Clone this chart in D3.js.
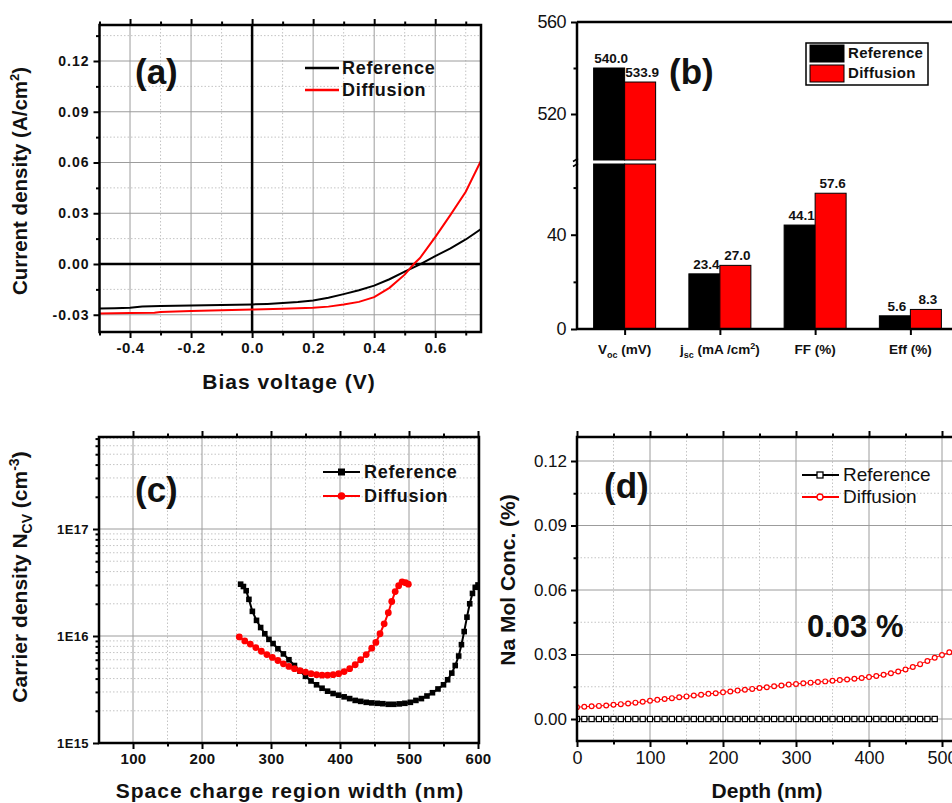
<!DOCTYPE html>
<html>
<head>
<meta charset="utf-8">
<script src="https://cdn.jsdelivr.net/npm/d3@7"></script>
<style>
  body { margin: 0; background: #fff; }
  text { font-family: "Liberation Sans", Arial, sans-serif; fill: #111; }
</style>
</head>
<body>
<div id="chart"></div>
<script>
// ---- (a) J-V curves ----
var jvVoltRef  = [-0.5, -0.45, -0.4, -0.36, -0.3, -0.2, -0.1, 0, 0.05, 0.1, 0.15, 0.2, 0.25, 0.3, 0.35, 0.4, 0.45, 0.5, 0.55, 0.6, 0.65, 0.7, 0.75];
var jvRef      = [-0.0263, -0.0261, -0.0259, -0.0251, -0.0249, -0.0245, -0.0242, -0.0239, -0.0236, -0.0231, -0.0225, -0.0216, -0.0200, -0.0178, -0.0155, -0.0128, -0.0090, -0.0045, -0.0002, 0.0047, 0.0092, 0.0145, 0.0206];
var jvVoltDiff = [-0.5, -0.4, -0.32, -0.3, -0.2, -0.1, 0, 0.1, 0.2, 0.25, 0.3, 0.35, 0.4, 0.45, 0.5, 0.53, 0.55, 0.6, 0.65, 0.7, 0.75];
var jvDiff     = [-0.0292, -0.0290, -0.0288, -0.0284, -0.0278, -0.0274, -0.0269, -0.0265, -0.0259, -0.0252, -0.0240, -0.0224, -0.0196, -0.0141, -0.0063, 0.0000, 0.0035, 0.0159, 0.0290, 0.0427, 0.0610];

// ---- (b) device parameters ----
var metrics    = ["Voc", "jsc", "FF", "Eff"];
var paramRef   = [540.0, 23.4, 44.1, 5.6];
var paramDiff  = [533.9, 27.0, 57.6, 8.3];

// ---- (c) C-V carrier density ----
var cvWidthRef = [256, 260, 264, 268, 273, 279, 285, 291, 297, 303, 310, 318, 326, 334, 342, 350, 358, 366, 374, 382, 390, 398, 406, 414, 422, 430, 438, 446, 454, 462, 470, 478, 486, 494, 502, 510, 518, 526, 534, 542, 550, 556, 562, 567, 572, 576, 580, 584, 588, 592, 596, 600];
var cvRef      = [3.05e16, 2.9e16, 2.65e16, 2.2e16, 1.7e16, 1.4e16, 1.2e16, 1.05e16, 9.3e15, 8.5e15, 7.6e15, 6.8e15, 6.0e15, 5.3e15, 4.7e15, 4.2e15, 3.8e15, 3.5e15, 3.25e15, 3.05e15, 2.9e15, 2.8e15, 2.7e15, 2.6e15, 2.5e15, 2.45e15, 2.4e15, 2.37e15, 2.35e15, 2.33e15, 2.3e15, 2.3e15, 2.32e15, 2.35e15, 2.4e15, 2.5e15, 2.6e15, 2.75e15, 2.95e15, 3.2e15, 3.5e15, 3.9e15, 4.5e15, 5.3e15, 6.5e15, 8.3e15, 1.1e16, 1.5e16, 2.0e16, 2.5e16, 2.85e16, 3.0e16];
var cvWidthDiff = [254, 262, 270, 278, 286, 294, 302, 310, 318, 326, 334, 342, 350, 358, 366, 374, 382, 390, 398, 406, 414, 422, 430, 438, 446, 452, 458, 464, 470, 475, 480, 485, 490, 495, 499];
var cvDiff      = [9.8e15, 9.0e15, 8.4e15, 7.8e15, 7.2e15, 6.7e15, 6.3e15, 5.9e15, 5.5e15, 5.2e15, 4.95e15, 4.75e15, 4.6e15, 4.45e15, 4.35e15, 4.3e15, 4.3e15, 4.35e15, 4.45e15, 4.65e15, 4.95e15, 5.4e15, 6.0e15, 6.7e15, 7.7e15, 8.7e15, 1.05e16, 1.3e16, 1.65e16, 2.1e16, 2.6e16, 2.95e16, 3.2e16, 3.15e16, 3.05e16];

// ---- (d) Na depth profile ----
var naDepthRef  = [0, 10, 20, 30, 40, 50, 60, 70, 80, 90, 100, 110, 120, 130, 140, 150, 160, 170, 180, 190, 200, 210, 220, 230, 240, 250, 260, 270, 280, 290, 300, 310, 320, 330, 340, 350, 360, 370, 380, 390, 400, 410, 420, 430, 440, 450, 460, 470, 480, 490];
var naRef       = [0, 0, 0, 0, 0, 0, 0, 0, 0, 0, 0, 0, 0, 0, 0, 0, 0, 0, 0, 0, 0, 0, 0, 0, 0, 0, 0, 0, 0, 0, 0, 0, 0, 0, 0, 0, 0, 0, 0, 0, 0, 0, 0, 0, 0, 0, 0, 0, 0, 0];
var naDepthDiff = [0, 10, 20, 30, 40, 50, 60, 70, 80, 90, 100, 110, 120, 130, 140, 150, 160, 170, 180, 190, 200, 210, 220, 230, 240, 250, 260, 270, 280, 290, 300, 310, 320, 330, 340, 350, 360, 370, 380, 390, 400, 410, 420, 430, 440, 450, 460, 470, 480, 490, 500, 510, 520];
var naDiff      = [0.0055, 0.0057, 0.0059, 0.0061, 0.0063, 0.0066, 0.0069, 0.0072, 0.0076, 0.0080, 0.0085, 0.0089, 0.0093, 0.0097, 0.0101, 0.0105, 0.0109, 0.0113, 0.0117, 0.0120, 0.0124, 0.0128, 0.0132, 0.0136, 0.0140, 0.0144, 0.0148, 0.0152, 0.0156, 0.0160, 0.0163, 0.0166, 0.0169, 0.0172, 0.0175, 0.0178, 0.0181, 0.0184, 0.0187, 0.0191, 0.0195, 0.0200, 0.0206, 0.0213, 0.0221, 0.0230, 0.0242, 0.0255, 0.0270, 0.0285, 0.0298, 0.0310, 0.0320];

var RED = "#ff0000";
var svg = d3.select("#chart").append("svg").attr("width", 952).attr("height", 803);

function zip(xs, ys) { return xs.map(function(x, i) { return [x, ys[i]]; }); }

function grid(g, x, y, box, majX, minX, majY, minY) {
  function vl(vals, major) {
    g.selectAll(null).data(vals).enter().append("line")
      .attr("x1", function(d) { return x(d); }).attr("x2", function(d) { return x(d); })
      .attr("y1", box.t).attr("y2", box.b)
      .attr("stroke", major ? "#9c9c9c" : "#c4c4c4").attr("stroke-width", 1)
      .attr("stroke-dasharray", major ? null : "1.5,2");
  }
  function hl(vals, major) {
    g.selectAll(null).data(vals).enter().append("line")
      .attr("y1", function(d) { return y(d); }).attr("y2", function(d) { return y(d); })
      .attr("x1", box.l).attr("x2", box.r)
      .attr("stroke", major ? "#9c9c9c" : "#c4c4c4").attr("stroke-width", 1)
      .attr("stroke-dasharray", major ? null : "1.5,2");
  }
  vl(minX, false); hl(minY, false); vl(majX, true); hl(majY, true);
}

function ticks(g, x, y, box, o) {
  var parts = [
    [d3.axisBottom(x).tickValues(o.majX).tickSize(6).tickPadding(4).tickFormat(o.fmtX), "translate(0," + box.b + ")", o.fontX],
    [d3.axisBottom(x).tickValues(o.minX).tickSize(3.5).tickFormat(""), "translate(0," + box.b + ")"],
    [d3.axisLeft(y).tickValues(o.majY).tickSize(6).tickPadding(4).tickFormat(o.fmtY), "translate(" + box.l + ",0)", o.fontY],
    [d3.axisLeft(y).tickValues(o.minY).tickSize(3.5).tickFormat(""), "translate(" + box.l + ",0)"]
  ];
  if (o.top) {
    parts.push([d3.axisTop(x).tickValues(o.majX).tickSize(6).tickFormat(""), "translate(0," + box.t + ")"]);
    parts.push([d3.axisTop(x).tickValues(o.minX).tickSize(3.5).tickFormat(""), "translate(0," + box.t + ")"]);
  }
  parts.forEach(function(p) {
    var a = g.append("g").attr("transform", p[1]).call(p[0]);
    a.select(".domain").remove();
    a.selectAll(".tick line").attr("stroke", "#000").attr("stroke-width", 2);
    if (p[2]) a.selectAll(".tick text").attr("fill", null)
      .style("font-size", p[2].size + "px").style("font-weight", p[2].weight)
      .style("letter-spacing", (p[2].ls || 0) + "px")
      .style("font-family", '"Liberation Sans", Arial, sans-serif');
  });
}

function frame(g, box) {
  g.append("rect").attr("x", box.l).attr("y", box.t)
    .attr("width", box.r - box.l).attr("height", box.b - box.t)
    .attr("fill", "none").attr("stroke", "#000").attr("stroke-width", 2.5);
}

function clip(id, box) {
  svg.append("clipPath").attr("id", id).append("rect")
    .attr("x", box.l).attr("y", box.t).attr("width", box.r - box.l).attr("height", box.b - box.t);
}

function panelLabel(txt, x, y) {
  svg.append("text").attr("x", x).attr("y", y).text(txt)
    .style("font-size", "35px").style("font-weight", "bold");
}

function yTitle(cx, cy, size, build) {
  var t = svg.append("text").attr("transform", "translate(" + cx + "," + cy + ") rotate(-90)")
    .attr("text-anchor", "middle").style("font-size", size + "px").style("font-weight", "bold");
  build(t);
}

function xTitle(cx, y, txt, ls) {
  svg.append("text").attr("x", cx).attr("y", y).attr("text-anchor", "middle")
    .style("font-size", "21px").style("font-weight", "bold").style("letter-spacing", ls + "px").text(txt);
}

// ================= (a) =================
var boxA = { l: 99.5, r: 481, t: 25, b: 332 };
var xA = d3.scaleLinear().domain([-0.5, 0.75]).range([99.5, 481]);
var yA = d3.scaleLinear().domain([0, 0.12]).range([264, 61]);
var gA = svg.append("g");
grid(gA, xA, yA, boxA, [-0.4, -0.2, 0.2, 0.4, 0.6], [-0.3, -0.1, 0.1, 0.3, 0.5, 0.7],
     [-0.03, 0.03, 0.06, 0.09, 0.12], [-0.015, 0.015, 0.045, 0.075, 0.105, 0.135]);
gA.append("line").attr("x1", xA(0)).attr("x2", xA(0)).attr("y1", boxA.t).attr("y2", boxA.b)
  .attr("stroke", "#000").attr("stroke-width", 2.5);
gA.append("line").attr("x1", boxA.l).attr("x2", boxA.r).attr("y1", yA(0)).attr("y2", yA(0))
  .attr("stroke", "#000").attr("stroke-width", 2.5);
clip("clipA", boxA);
var lineA = d3.line().x(function(d) { return xA(d[0]); }).y(function(d) { return yA(d[1]); });
gA.append("path").datum(zip(jvVoltRef, jvRef)).attr("d", lineA).attr("clip-path", "url(#clipA)")
  .attr("fill", "none").attr("stroke", "#000").attr("stroke-width", 2);
gA.append("path").datum(zip(jvVoltDiff, jvDiff)).attr("d", lineA).attr("clip-path", "url(#clipA)")
  .attr("fill", "none").attr("stroke", RED).attr("stroke-width", 2);
frame(gA, boxA);
ticks(gA, xA, yA, boxA, {
  majX: [-0.4, -0.2, 0, 0.2, 0.4, 0.6], minX: [-0.5, -0.3, -0.1, 0.1, 0.3, 0.5, 0.7],
  majY: [-0.03, 0, 0.03, 0.06, 0.09, 0.12], minY: [-0.015, 0.015, 0.045, 0.075, 0.105, 0.135],
  fmtX: function(d) { return d.toFixed(1); }, fmtY: function(d) { return d.toFixed(2); },
  fontX: { size: 15, weight: "bold", ls: 0.6 }, fontY: { size: 14, weight: "bold", ls: 1 }, top: true
});
[["Reference", "#000", 68], ["Diffusion", RED, 90]].forEach(function(l) {
  svg.append("line").attr("x1", 305).attr("x2", 339).attr("y1", l[2]).attr("y2", l[2])
    .attr("stroke", l[1]).attr("stroke-width", 2.5);
  svg.append("text").attr("x", 342).attr("y", l[2] + 6).text(l[0])
    .style("font-size", "18px").style("font-weight", "bold").style("letter-spacing", "0.7px");
});
panelLabel("(a)", 135, 84);
yTitle(27, 181, 20.5, function(t) {
  t.append("tspan").text("Current density (A/cm");
  t.append("tspan").attr("dy", -8).style("font-size", "13px").text("2");
  t.append("tspan").attr("dy", 8).text(")");
});
xTitle(289, 389, "Bias voltage (V)", 1);

// ================= (b) =================
var boxB = { l: 577, r: 962, t: 22, b: 329 };
var yLow = d3.scaleLinear().domain([0, 70]).range([329, 164]);
var yUp = d3.scaleLinear().domain([500, 560]).range([160, 22]);
var xB = d3.scalePoint().domain(metrics).range([577, 958]).padding(0.5);
var xSub = d3.scaleBand().domain(["Reference", "Diffusion"]).range([-31, 31]);
var gB = svg.append("g");
var barData = [];
metrics.forEach(function(m, i) {
  barData.push({ m: m, s: "Reference", v: paramRef[i], c: "#000" });
  barData.push({ m: m, s: "Diffusion", v: paramDiff[i], c: RED });
});
barData.forEach(function(d) {
  var x0 = xB(d.m) + xSub(d.s), w = xSub.bandwidth();
  var topLow = d.v > 70 ? yLow(70) : yLow(d.v);
  gB.append("rect").attr("x", x0).attr("y", topLow).attr("width", w).attr("height", yLow(0) - topLow)
    .attr("fill", d.c).attr("stroke", "#000").attr("stroke-width", 1);
  var ty = topLow;
  if (d.v > 70) {
    gB.append("rect").attr("x", x0).attr("y", yUp(d.v)).attr("width", w).attr("height", yUp(500) - yUp(d.v))
      .attr("fill", d.c).attr("stroke", "#000").attr("stroke-width", 1);
    ty = yUp(d.v);
  }
  gB.append("text").attr("x", x0 + w / 2 + 2).attr("y", ty - 5).attr("text-anchor", "middle")
    .text(d3.format(".1f")(d.v)).style("font-size", "13.5px").style("font-weight", "bold");
});
// axes of (b)
gB.append("line").attr("x1", boxB.l).attr("x2", boxB.l).attr("y1", boxB.t).attr("y2", boxB.b)
  .attr("stroke", "#000").attr("stroke-width", 2.5);
gB.append("line").attr("x1", boxB.l).attr("x2", boxB.r).attr("y1", boxB.b).attr("y2", boxB.b)
  .attr("stroke", "#000").attr("stroke-width", 2.5);
gB.append("line").attr("x1", boxB.l).attr("x2", boxB.r).attr("y1", boxB.t).attr("y2", boxB.t)
  .attr("stroke", "#000").attr("stroke-width", 2.5);
[[yLow, [0, 40], [20, 60]], [yUp, [520, 560], [540]]].forEach(function(a) {
  var maj = gB.append("g").attr("transform", "translate(" + boxB.l + ",0)")
    .call(d3.axisLeft(a[0]).tickValues(a[1]).tickSize(6).tickPadding(5));
  var mnr = gB.append("g").attr("transform", "translate(" + boxB.l + ",0)")
    .call(d3.axisLeft(a[0]).tickValues(a[2]).tickSize(3.5).tickFormat(""));
  [maj, mnr].forEach(function(s) {
    s.select(".domain").remove();
    s.selectAll(".tick line").attr("stroke", "#000").attr("stroke-width", 2);
  });
  maj.selectAll(".tick text").attr("fill", null).style("font-size", "18px")
    .style("letter-spacing", "-0.5px").style("font-family", '"Liberation Sans", Arial, sans-serif');
});
// axis break mark
[160, 165].forEach(function(yy) {
  gB.append("line").attr("x1", boxB.l - 4).attr("x2", boxB.l + 1).attr("y1", yy + 1.5).attr("y2", yy - 1.5)
    .attr("stroke", "#000").attr("stroke-width", 1.5);
});
var xAxB = gB.append("g").attr("transform", "translate(0," + boxB.b + ")")
  .call(d3.axisBottom(xB).tickSize(6).tickFormat(""));
xAxB.select(".domain").remove();
xAxB.selectAll(".tick line").attr("stroke", "#000").attr("stroke-width", 2);
var catLabels = {
  Voc: [["V", 0], ["oc", 4, 9], [" (mV)", -4]],
  jsc: [["j", 0], ["sc", 4, 9], [" (mA /cm", -4], ["2", -5, 9], [")", 5]],
  FF: [["FF (%)", 0]],
  Eff: [["Eff (%)", 0]]
};
metrics.forEach(function(m) {
  var t = svg.append("text").attr("x", xB(m)).attr("y", 354).attr("text-anchor", "middle")
    .style("font-size", "13.5px").style("font-weight", "bold");
  catLabels[m].forEach(function(p) {
    var ts = t.append("tspan").attr("dy", p[1]).text(p[0]);
    if (p[2]) ts.style("font-size", p[2] + "px");
  });
});
// legend (b)
gB.append("rect").attr("x", 806).attr("y", 43).attr("width", 122).attr("height", 42)
  .attr("fill", "#fff").attr("stroke", "#000").attr("stroke-width", 1.5);
[["Reference", "#000", 45], ["Diffusion", RED, 65]].forEach(function(l) {
  gB.append("rect").attr("x", 810).attr("y", l[2]).attr("width", 34).attr("height", 17)
    .attr("fill", l[1]).attr("stroke", "#000").attr("stroke-width", 1);
  gB.append("text").attr("x", 848).attr("y", l[2] + 13).text(l[0])
    .style("font-size", "15px").style("font-weight", "bold").style("letter-spacing", "0.3px");
});
panelLabel("(b)", 669, 84);

// ================= (c) =================
var boxC = { l: 99, r: 479, t: 437, b: 743 };
var xC = d3.scaleLinear().domain([100, 600]).range([133, 478]);
var yC = d3.scaleLog().domain([1e15, 1e17]).range([743, 529]);
var gC = svg.append("g");
var minorLog = [2e15, 3e15, 4e15, 5e15, 6e15, 7e15, 8e15, 9e15, 2e16, 3e16, 4e16, 5e16, 6e16, 7e16, 8e16, 9e16, 2e17, 3e17, 4e17, 5e17, 6e17, 7e17];
grid(gC, xC, yC, boxC, [100, 200, 300, 400, 500, 600], [150, 250, 350, 450, 550],
     [1e16, 1e17], minorLog);
clip("clipC", boxC);
var lineC = d3.line().x(function(d) { return xC(d[0]); }).y(function(d) { return yC(d[1]); });
var refC = zip(cvWidthRef, cvRef), diffC = zip(cvWidthDiff, cvDiff);
var sC = gC.append("g").attr("clip-path", "url(#clipC)");
sC.append("path").datum(refC).attr("d", lineC).attr("fill", "none").attr("stroke", "#000").attr("stroke-width", 2);
sC.selectAll(null).data(refC).enter().append("rect")
  .attr("x", function(d) { return xC(d[0]) - 2.8; }).attr("y", function(d) { return yC(d[1]) - 2.8; })
  .attr("width", 5.6).attr("height", 5.6).attr("fill", "#000");
sC.append("path").datum(diffC).attr("d", lineC).attr("fill", "none").attr("stroke", RED).attr("stroke-width", 2);
sC.selectAll(null).data(diffC).enter().append("circle")
  .attr("cx", function(d) { return xC(d[0]); }).attr("cy", function(d) { return yC(d[1]); })
  .attr("r", 3.4).attr("fill", RED);
frame(gC, boxC);
ticks(gC, xC, yC, boxC, {
  majX: [100, 200, 300, 400, 500, 600], minX: [150, 250, 350, 450, 550],
  majY: [1e15, 1e16, 1e17], minY: minorLog,
  fmtX: d3.format("d"), fmtY: function(d) { return "1E" + Math.round(Math.log10(d)); },
  fontX: { size: 15, weight: "bold", ls: 0.3 }, fontY: { size: 13, weight: "bold", ls: 0.4 }, top: true
});
[["Reference", "#000", 472, "sq"], ["Diffusion", RED, 496, "ci"]].forEach(function(l) {
  svg.append("line").attr("x1", 323).attr("x2", 360).attr("y1", l[2]).attr("y2", l[2])
    .attr("stroke", l[1]).attr("stroke-width", 2);
  if (l[3] === "sq") svg.append("rect").attr("x", 338).attr("y", l[2] - 3.5).attr("width", 7).attr("height", 7).attr("fill", l[1]);
  else svg.append("circle").attr("cx", 341.5).attr("cy", l[2]).attr("r", 3.8).attr("fill", l[1]);
  svg.append("text").attr("x", 364).attr("y", l[2] + 6).text(l[0])
    .style("font-size", "18px").style("font-weight", "bold").style("letter-spacing", "0.7px");
});
panelLabel("(c)", 135, 502);
yTitle(27, 577, 21, function(t) {
  t.append("tspan").text("Carrier density N");
  t.append("tspan").attr("dy", 5).style("font-size", "14px").text("CV");
  t.append("tspan").attr("dy", -5).text(" (cm");
  t.append("tspan").attr("dy", -8).style("font-size", "14px").text("-3");
  t.append("tspan").attr("dy", 8).text(")");
});
xTitle(290, 798, "Space charge region width (nm)", 1);

// ================= (d) =================
var boxD = { l: 577, r: 962, t: 437, b: 741 };
var xD = d3.scaleLinear().domain([0, 500]).range([577, 942]);
var yD = d3.scaleLinear().domain([0, 0.12]).range([719, 461]);
var gD = svg.append("g");
grid(gD, xD, yD, boxD, [100, 200, 300, 400, 500], [50, 150, 250, 350, 450, 550],
     [0, 0.03, 0.06, 0.09, 0.12], [0.015, 0.045, 0.075, 0.105]);
clip("clipD", boxD);
var lineD = d3.line().x(function(d) { return xD(d[0]); }).y(function(d) { return yD(d[1]); });
var refD = zip(naDepthRef, naRef), diffD = zip(naDepthDiff, naDiff);
var sD = gD.append("g").attr("clip-path", "url(#clipD)");
sD.append("path").datum(diffD).attr("d", lineD).attr("fill", "none").attr("stroke", RED).attr("stroke-width", 1);
sD.selectAll(null).data(diffD).enter().append("circle")
  .attr("cx", function(d) { return xD(d[0]); }).attr("cy", function(d) { return yD(d[1]); })
  .attr("r", 2.4).attr("fill", "#fff").attr("stroke", RED).attr("stroke-width", 1.2);
sD.append("path").datum(refD).attr("d", lineD).attr("fill", "none").attr("stroke", "#000").attr("stroke-width", 1);
sD.selectAll(null).data(refD).enter().append("rect")
  .attr("x", function(d) { return xD(d[0]) - 2.6; }).attr("y", function(d) { return yD(d[1]) - 2.6; })
  .attr("width", 5.2).attr("height", 5.2).attr("fill", "#fff").attr("stroke", "#000").attr("stroke-width", 1.2);
frame(gD, boxD);
ticks(gD, xD, yD, boxD, {
  majX: [0, 100, 200, 300, 400, 500], minX: [50, 150, 250, 350, 450],
  majY: [0, 0.03, 0.06, 0.09, 0.12], minY: [0.015, 0.045, 0.075, 0.105],
  fmtX: d3.format("d"), fmtY: function(d) { return d.toFixed(2); },
  fontX: { size: 18, weight: "normal" }, fontY: { size: 17, weight: "normal" }, top: true
});
[["Reference", "#000", 475, "sq"], ["Diffusion", RED, 497, "ci"]].forEach(function(l) {
  svg.append("line").attr("x1", 802).attr("x2", 839).attr("y1", l[2]).attr("y2", l[2])
    .attr("stroke", l[1]).attr("stroke-width", 2);
  if (l[3] === "sq") svg.append("rect").attr("x", 817).attr("y", l[2] - 3).attr("width", 6).attr("height", 6)
    .attr("fill", "#fff").attr("stroke", l[1]).attr("stroke-width", 1.3);
  else svg.append("circle").attr("cx", 820).attr("cy", l[2]).attr("r", 3).attr("fill", "#fff")
    .attr("stroke", l[1]).attr("stroke-width", 1.3);
  svg.append("text").attr("x", 843).attr("y", l[2] + 6).text(l[0])
    .style("font-size", "19px");
});
svg.append("text").attr("x", 807).attr("y", 637).text("0.03 %")
  .style("font-size", "31px").style("font-weight", "bold");
panelLabel("(d)", 604, 498);
yTitle(515, 580, 21, function(t) { t.append("tspan").text("Na Mol Conc. (%)"); });
xTitle(767, 798, "Depth (nm)", 0);
</script>
</body>
</html>
